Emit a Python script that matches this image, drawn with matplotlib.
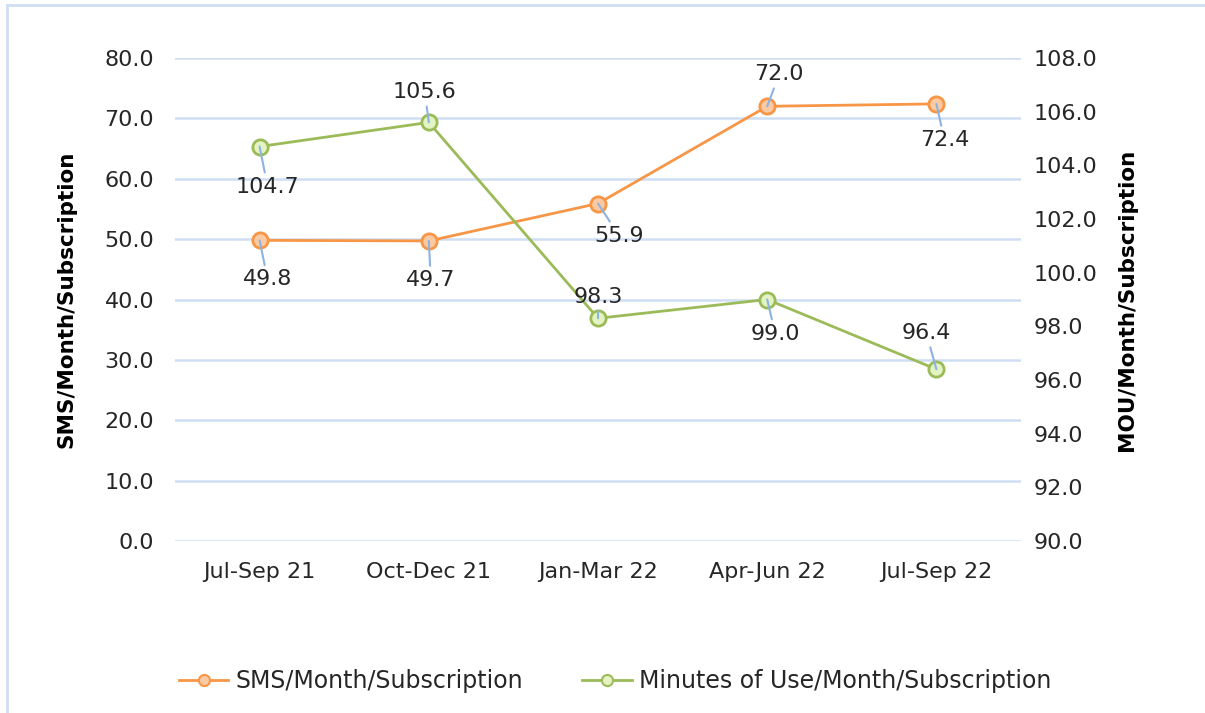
import matplotlib.pyplot as plt
from matplotlib.patches import Rectangle
from matplotlib.lines import Line2D

# --------------------------------------------------------------------------------------------------
# DATA:
quarters = ["Jul-Sep 21", "Oct-Dec 21", "Jan-Mar 22", "Apr-Jun 22", "Jul-Sep 22"]
sms_per_month = [49.8, 49.7, 55.9, 72.0, 72.4]
mou_per_month = [104.7, 105.6, 98.3, 99.0, 96.4]

# label offsets (pixels) from each marker
sms_offsets = [(8, -39), (2, -39), (21, -32), (12, 32), (8, -36)]
mou_offsets = [(8, -40), (-4, 30), (0, 21), (8, -34), (-10, 36)]

# --------------------------------------------------------------------------------------------------
# STYLE:
ORANGE = "#f79646"
ORANGE_FACE = "#fccaa2"
GREEN = "#9bbb59"
GREEN_FACE = "#e3f4c2"
GRID = "#cfdff3"
LEADER = "#8db3e2"
TEXT = "#262626"

plt.rcParams["font.family"] = "DejaVu Sans"

W, H = 1205, 713
fig = plt.figure(figsize=(W / 100, H / 100), dpi=100)
ax = fig.add_axes([175 / W, 1 - 541 / H, (1021 - 175) / W, (541 - 58) / H])
ax2 = ax.twinx()

x = list(range(len(quarters)))

# gridlines from the left axis
ax.set_ylim(0, 80)
ax.set_yticks(range(0, 81, 10))
ax.set_yticklabels([f"{v:.1f}" for v in range(0, 81, 10)])
ax.grid(axis="y", color=GRID, linewidth=1.8)
ax.set_axisbelow(True)
ax.set_xlim(-0.5, len(quarters) - 0.5)
ax.set_xticks(x)
ax.set_xticklabels(quarters)

ax2.set_ylim(90, 108)
ax2.set_yticks(range(90, 109, 2))
ax2.set_yticklabels([f"{v:.1f}" for v in range(90, 109, 2)])

for a in (ax, ax2):
    for s in a.spines.values():
        s.set_visible(False)
    a.tick_params(length=0, labelsize=16, colors=TEXT)
ax.tick_params(axis="y", pad=15)
ax.tick_params(axis="x", pad=15)
ax2.tick_params(axis="y", pad=9)

ax.set_ylabel("SMS/Month/Subscription", fontsize=15.5, fontweight="bold", labelpad=20,
              color="black")
ax2.set_ylabel("MOU/Month/Subscription", fontsize=15.5, fontweight="bold", labelpad=14,
               color="black")

l1, = ax.plot(x, sms_per_month, color=ORANGE, linewidth=2, marker="o", markersize=11,
              markerfacecolor=ORANGE_FACE, markeredgecolor=ORANGE, markeredgewidth=2,
              zorder=3)
l2, = ax2.plot(x, mou_per_month, color=GREEN, linewidth=2, marker="o", markersize=11,
               markerfacecolor=GREEN_FACE, markeredgecolor=GREEN, markeredgewidth=2,
               zorder=3)

# data labels with leader lines
for axis, vals, offs in ((ax, sms_per_month, sms_offsets), (ax2, mou_per_month, mou_offsets)):
    for xi, v, (dx, dy) in zip(x, vals, offs):
        axis.annotate(f"{v:.1f}", xy=(xi, v), xytext=(dx, dy), textcoords="offset pixels",
                      ha="center", va="center", fontsize=16, color=TEXT, zorder=5,
                      arrowprops=dict(arrowstyle="-", color=LEADER, lw=1.5,
                                      shrinkA=1, shrinkB=0))

# legend with smaller markers than the plot
h1 = Line2D([], [], color=ORANGE, linewidth=2, marker="o", markersize=8,
            markerfacecolor=ORANGE_FACE, markeredgecolor=ORANGE, markeredgewidth=1.5)
h2 = Line2D([], [], color=GREEN, linewidth=2, marker="o", markersize=8,
            markerfacecolor=GREEN_FACE, markeredgecolor=GREEN, markeredgewidth=1.5)
fig.legend(handles=[h1, h2], labels=["SMS/Month/Subscription", "Minutes of Use/Month/Subscription"],
           loc="center", bbox_to_anchor=(615 / W, 1 - 681 / H), ncol=2,
           frameon=False, fontsize=17, handlelength=2.1, handletextpad=0.3,
           columnspacing=2.5, labelcolor=TEXT)

# light border round the chart
fig.patches.append(Rectangle((7 / W, -0.01), 1.0, 1 - 5 / H + 0.01, transform=fig.transFigure,
                             fill=False, edgecolor=GRID, linewidth=2))

fig.savefig("out.png", dpi=100)
